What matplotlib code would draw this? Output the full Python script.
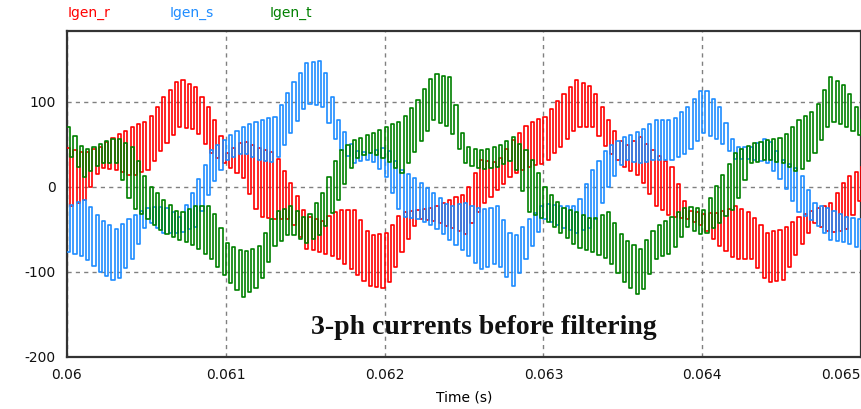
import numpy as np
import matplotlib
matplotlib.use("Agg")
import matplotlib.pyplot as plt

plt.rcParams["axes.unicode_minus"] = False

# Envelope samples of each phase current (A), every 0.1 ms from 0.060 s to 0.065 s
t_env = [0.0600 + 0.0001 * i for i in range(51)]

ir_hi = [45, 40, 47, 60, 70, 78, 105, 127, 117, 88, 40, 55, 45, 40, 5, -35, -40, -27, -27,
         -58, -54, -30, -27, -25, -15, -8, 32, 28, 55, 75, 82, 105, 125, 117, 78, 47, 58, 40,
         23, -27, -32, -30, -23, -32, -54, -50, -35, -27, -19, 10, 23]
ir_lo = [-25, -15, 23, 20, 12, 20, 47, 70, 67, 40, 25, 10, -35, -38, -38, -73, -77, -85, -100,
         -117, -120, -77, -38, -40, -47, -55, -23, -4, 15, 23, 28, 47, 70, 70, 43, 23, 12, -23,
         -35, -38, -47, -70, -85, -85, -112, -109, -73, -42, -54, -50, -8]

is_hi = [-23, -15, -38, -50, -35, -25, -23, -35, 0, 43, 58, 70, 78, 82, 117, 145, 148, 78, 43,
         40, 47, 20, 8, -7, -23, -19, -27, -23, -62, -38, -19, -23, -23, 20, 47, 58, 66, 78, 78,
         94, 117, 94, 47, 47, 58, 32, 20, -19, -27, -35, -38]
is_lo = [-77, -82, -100, -112, -85, -40, -54, -54, -47, 0, 32, 40, 32, 28, 63, 98, 94, 47, 28,
         33, 12, -35, -38, -47, -62, -77, -97, -89, -117, -77, -38, -47, -54, -47, 0, 32, 28,
         32, 32, 40, 63, 55, 33, 33, 28, 4, -30, -42, -62, -66, -73]

it_hi = [70, 43, 50, 58, 47, 4, -15, -32, -23, -23, -66, -77, -70, -30, -23, -38, -7, 40, 55,
         62, 70, 78, 102, 133, 129, 47, 43, 47, 58, 40, 0, -23, -30, -38, -30, -62, -73, -47,
         -35, -23, -27, 8, 40, 50, 55, 58, 78, 90, 129, 117, 78]
it_lo = [40, 12, 28, 28, -23, -38, -54, -62, -70, -85, -109, -129, -117, -70, -54, -66, -54,
         -15, 32, 40, 32, 16, 47, 78, 70, 28, 20, 23, 32, -30, -38, -54, -70, -77, -85, -112,
         -129, -85, -77, -47, -58, -42, -23, 28, 32, 28, 16, 40, 78, 70, 58]

series_names = ["Igen_r", "Igen_s", "Igen_t"]
series_colors = ["#ff0000", "#1e8cff", "#008000"]
x_ticks = [0.060, 0.061, 0.062, 0.063, 0.064, 0.065]
x_ticklabels = ["0.06", "0.061", "0.062", "0.063", "0.064", "0.065"]
y_ticks = [-200, -100, 0, 100]
ripple_step = 0.00002  # half period of the switching ripple (s)

fig = plt.figure(figsize=(8.62, 4.09), dpi=100)
ax = fig.add_axes([67 / 862, 52 / 409, 794 / 862, 326 / 409])

t_fine = np.arange(0.06, 0.065 + ripple_step / 2, ripple_step)
env_pairs = [(ir_hi, ir_lo), (is_hi, is_lo), (it_hi, it_lo)]
for k, ((hi, lo), color) in enumerate(zip(env_pairs, series_colors)):
    hi_f = np.interp(t_fine, t_env, hi)
    lo_f = np.interp(t_fine, t_env, lo)
    idx = np.arange(len(t_fine))
    y = np.where((idx + k) % 2 == 0, hi_f, lo_f)
    ax.plot(t_fine, y, color=color, lw=1.2, drawstyle="steps-post", zorder=3 + k)

ax.set_xlim(0.06, 0.065)
ax.set_ylim(-200, 183)
ax.set_xticks(x_ticks)
ax.set_xticklabels(x_ticklabels)
ax.set_yticks(y_ticks)
ax.tick_params(length=0, labelsize=10, pad=8, colors="#111111")
ax.get_xticklabels()[-1].set_horizontalalignment("right")
ax.grid(True, color="#808080", ls=(0, (3, 3)), lw=1.0)
for s in ax.spines.values():
    s.set_color("#333333")
    s.set_linewidth(1.6)
ax.set_xlabel("Time (s)", fontsize=10, labelpad=6)

for name, color, xpix in zip(series_names, series_colors, [68, 170, 270]):
    fig.text(xpix / 862, 1 - 13 / 409, name, color=color, fontsize=10, va="center", ha="left")

ax.text(0.062626, -165, "3-ph currents before filtering", family="Liberation Serif",
        fontsize=20, fontweight="bold", ha="center", va="center", color="#111111", zorder=10)

fig.savefig("out.png", dpi=100)
